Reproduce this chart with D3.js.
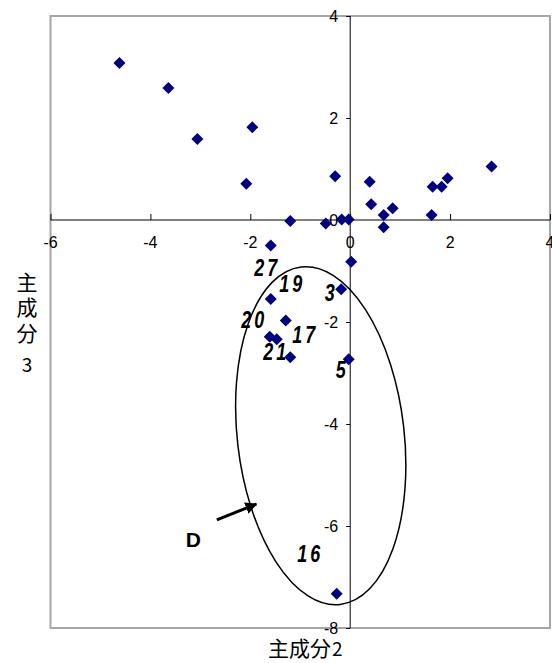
<!DOCTYPE html>
<html><head><meta charset="utf-8">
<script src="https://cdn.jsdelivr.net/npm/d3@7"></script>
<style>body{margin:0;background:#fff}svg{display:block}</style>
</head><body>
<svg id="chart" width="552" height="663"></svg>
<script>
// Principal component 2 (x) and 3 (y) scores
const pc2 = [-4.62,-3.64,-3.06,-1.96,-2.08,-1.20,-0.30,-0.49,-0.17,-0.03,0.39,0.42,0.67,0.67,0.85,1.63,1.65,1.83,1.95,2.83,
             -1.59,0.02,-0.18,-1.59,-1.29,-1.61,-1.47,-1.20,-0.03,-0.27];
const pc3 = [3.08,2.59,1.59,1.82,0.71,-0.02,0.86,-0.07,0.01,0.01,0.75,0.31,0.10,-0.14,0.23,0.10,0.65,0.65,0.82,1.05,
             -0.50,-0.82,-1.36,-1.55,-1.97,-2.29,-2.34,-2.69,-2.73,-7.33];
const xTicks = [-6,-4,-2,0,2,4];
const yTicks = [-8,-6,-4,-2,0,2,4];
const labelText = ["27","19","3","20","17","21","5","16"];
const labelX = [-1.66,-1.16,-0.38,-1.92,-0.90,-1.48,-0.16,-0.80];
const labelY = [-0.94,-1.25,-1.43,-1.96,-2.25,-2.59,-2.94,-6.55];
const groupName = "D";
const groupLabel = [-3.14,-6.27];
const ellipseCenter = [-0.59,-4.23];
const ellipseRadii = [1.67,3.33];
const arrowFrom = [-2.67,-5.88];
const arrowTo = [-1.88,-5.57];

const svg = d3.select("#chart");
const x = d3.scaleLinear().domain([-6,4]).range([50.5,550]);
const y = d3.scaleLinear().domain([-8,4]).range([628,16]);

// frame
svg.append("rect").attr("x",x(-6)).attr("y",y(4)).attr("width",x(4)-x(-6)).attr("height",y(-8)-y(4))
  .attr("fill","none").attr("stroke","#a6a6a6").attr("stroke-width",2);

const tickFont = "'Liberation Sans', Arial, sans-serif";
// x axis through y=0
const xAxis = d3.axisTop(x).tickValues(xTicks).tickSize(6).tickFormat("");
const gx = svg.append("g").attr("transform",`translate(0,${y(0)})`).call(xAxis);
gx.select(".domain").attr("d",`M${x(-6)},0H${x(4)}`);
gx.selectAll("line,path").attr("stroke","#000");
svg.append("g").selectAll("text").data(xTicks).join("text")
  .attr("x",d=>x(d)).attr("y",y(0)+28).attr("text-anchor","middle")
  .attr("font-family",tickFont).attr("font-size",16).text(d=>d);

// y axis through x=0
const yAxis = d3.axisLeft(y).tickValues(yTicks).tickSize(4).tickFormat("");
const gy = svg.append("g").attr("transform",`translate(${x(0)},0)`).call(yAxis);
gy.select(".domain").attr("d",`M0,${y(4)}V${y(-8)}`);
gy.selectAll("line,path").attr("stroke","#000");
svg.append("g").selectAll("text").data(yTicks).join("text")
  .attr("x",x(0)-12).attr("y",d=>y(d)+6).attr("text-anchor","end")
  .attr("font-family",tickFont).attr("font-size",16).text(d=>d);

// points
svg.append("g").selectAll("path").data(pc2.map((v,i)=>[v,pc3[i]])).join("path")
  .attr("d",d3.symbol().type(d3.symbolSquare).size(72))
  .attr("transform",d=>`translate(${x(d[0])},${y(d[1])}) rotate(45)`)
  .attr("fill","#000080");

// ellipse
const ecx = x(ellipseCenter[0]), ecy = y(ellipseCenter[1]);
svg.append("ellipse").attr("cx",0).attr("cy",0)
  .attr("rx",x(ellipseRadii[0])-x(0)).attr("ry",y(0)-y(ellipseRadii[1]))
  .attr("transform",`translate(${ecx},${ecy}) rotate(-6.6)`)
  .attr("fill","none").attr("stroke","#000").attr("stroke-width",1.5);

// point labels (tall, condensed, bold italic)
svg.append("g").selectAll("text").data(labelText).join("text")
  .attr("transform",(d,i)=>`translate(${x(labelX[i])},${y(labelY[i])}) scale(0.78,1)`)
  .attr("text-anchor","middle").attr("dominant-baseline","central")
  .attr("font-family",tickFont).attr("font-weight","bold").attr("font-style","italic")
  .attr("font-size",23).attr("letter-spacing",4).text(d=>d);

// group label and arrow
svg.append("text").attr("x",x(groupLabel[0])).attr("y",y(groupLabel[1]))
  .attr("text-anchor","middle").attr("dominant-baseline","central")
  .attr("font-family",tickFont).attr("font-weight","bold").attr("font-size",21).text(groupName);
svg.append("defs").append("marker").attr("id","ah").attr("viewBox","0 0 10 10")
  .attr("refX",9).attr("refY",5).attr("markerWidth",4).attr("markerHeight",4).attr("orient","auto")
  .append("path").attr("d","M0,0L10,5L0,10z").attr("fill","#000");
svg.append("line").attr("x1",x(arrowFrom[0])).attr("y1",y(arrowFrom[1]))
  .attr("x2",x(arrowTo[0])).attr("y2",y(arrowTo[1]))
  .attr("stroke","#000").attr("stroke-width",3).attr("marker-end","url(#ah)");

// axis titles
const cjk = "'Noto Sans CJK JP','Noto Sans CJK SC',sans-serif";
const yTitle = ["主","成","分","3"];
const yTitleY = [281,306,332,363];
svg.append("g").selectAll("text").data(yTitle).join("text")
  .attr("x",27).attr("y",(d,i)=>yTitleY[i]).attr("text-anchor","middle").attr("dominant-baseline","central")
  .attr("font-family",cjk).attr("font-size",d=>d==="3"?19:21).text(d=>d);
svg.append("text").attr("x",268).attr("y",647).attr("dominant-baseline","central")
  .attr("font-family",cjk).attr("font-size",21)
  .selectAll("tspan").data(["主成分","2"]).join("tspan")
  .attr("font-size",(d,i)=>i?19:21).attr("dx",(d,i)=>i?1:0).text(d=>d);
</script>
</body></html>
